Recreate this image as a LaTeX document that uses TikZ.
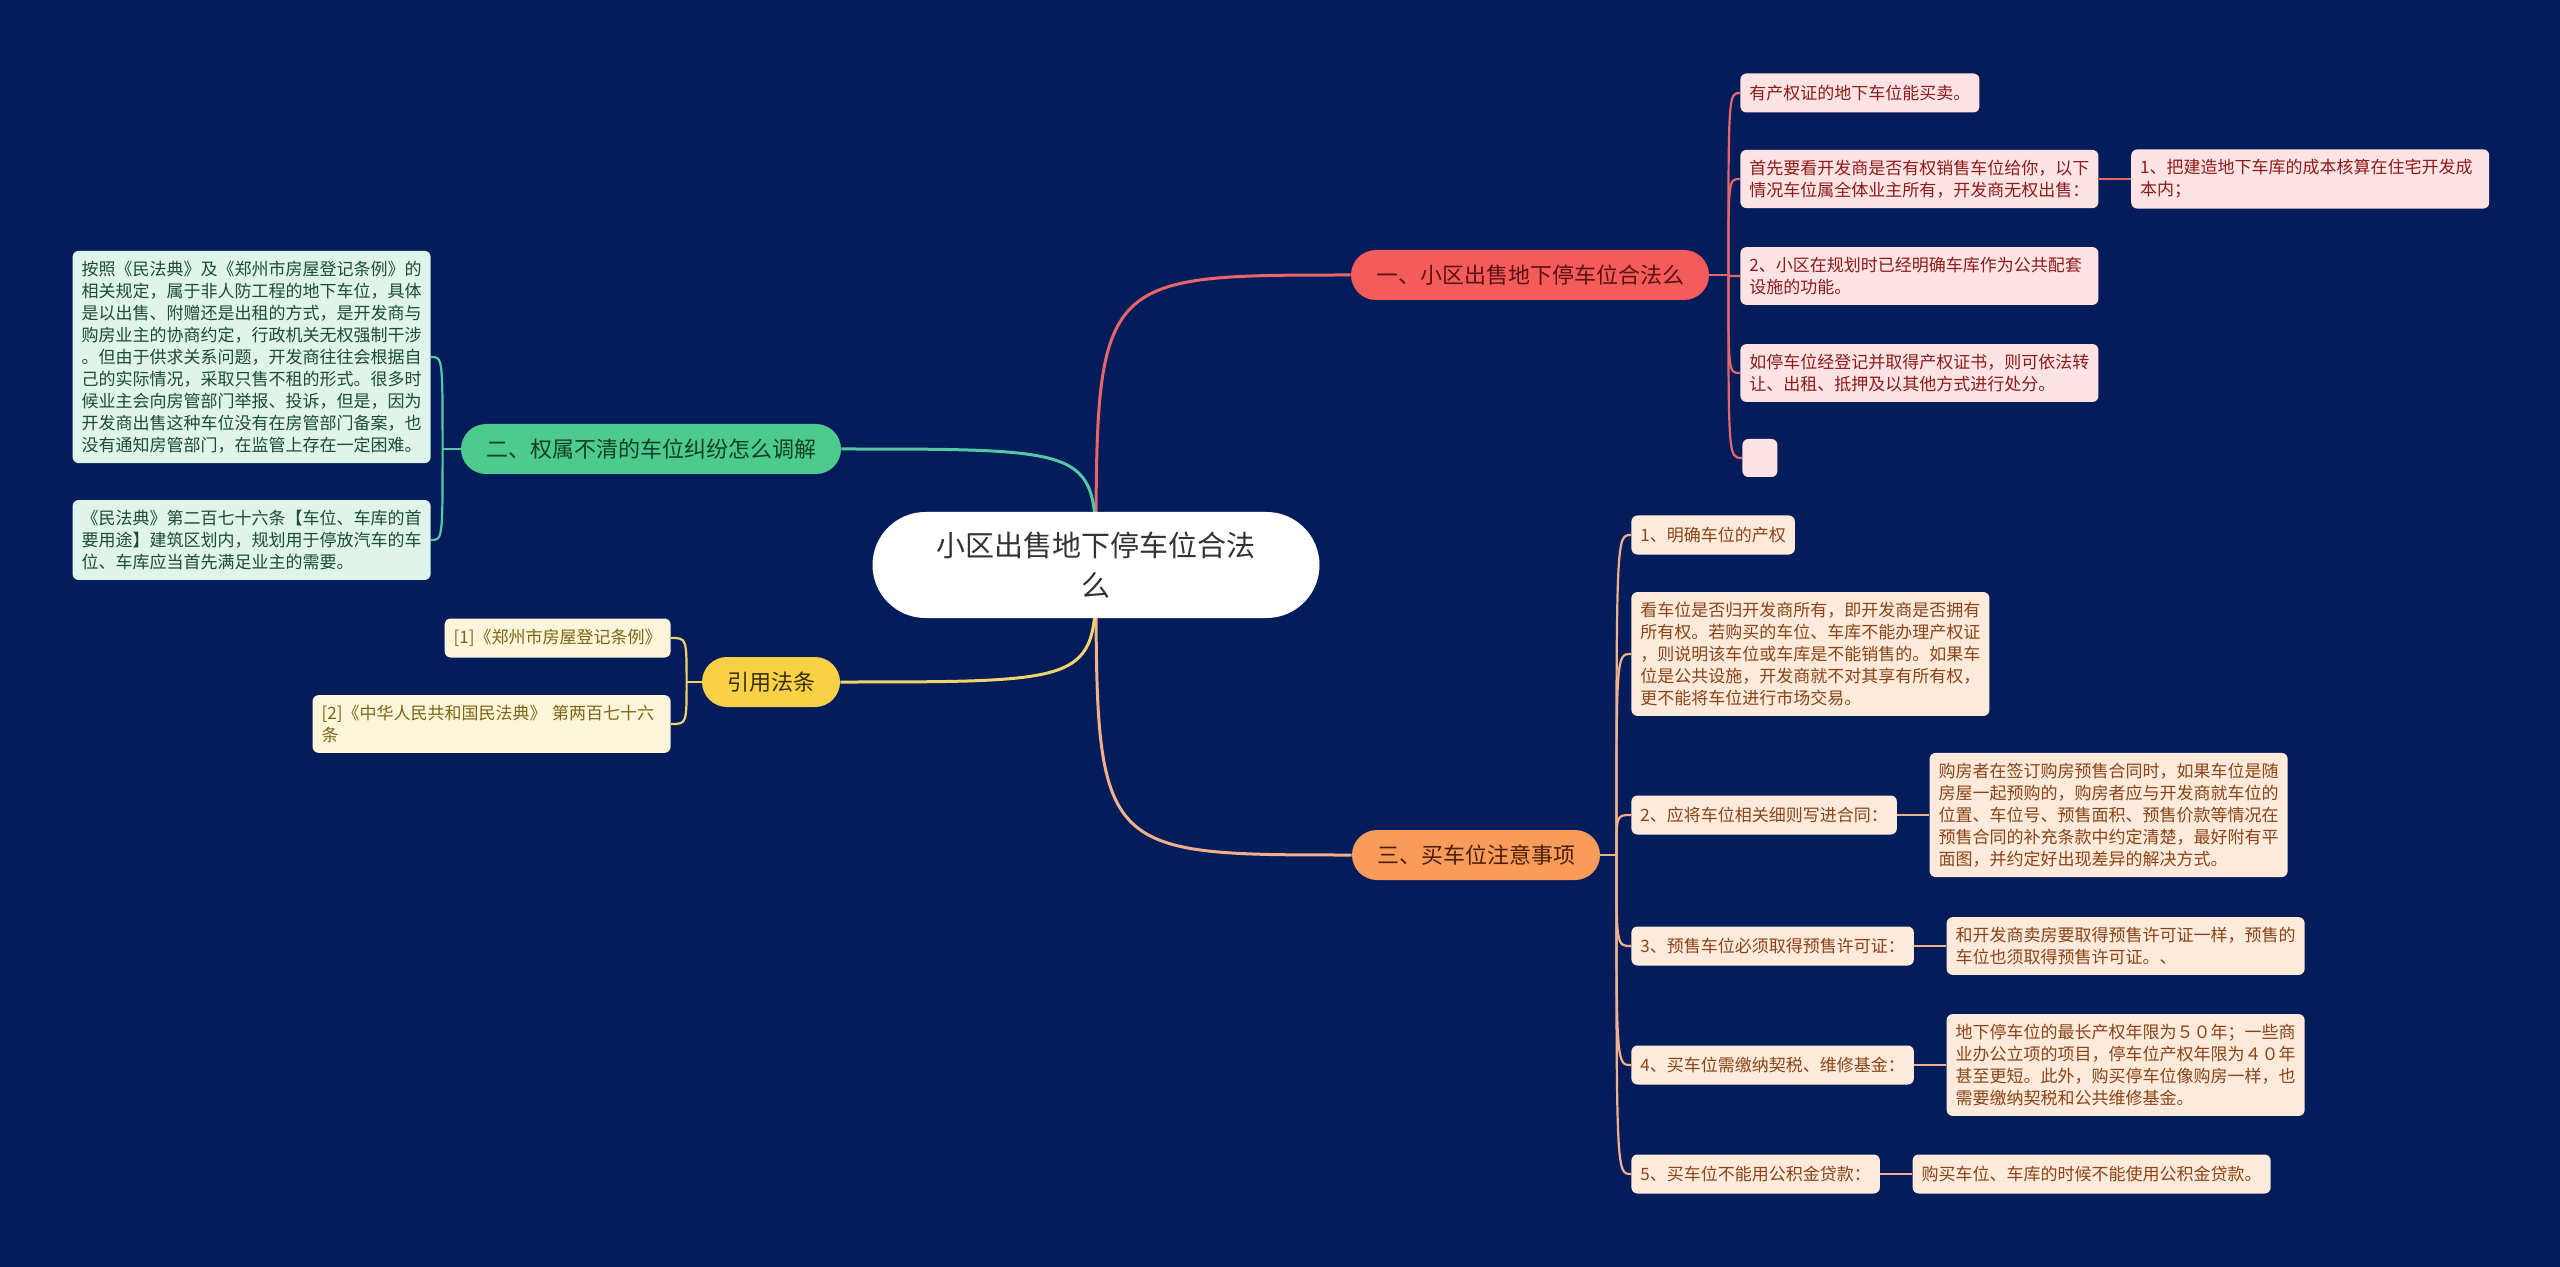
\documentclass[tikz,border=0pt]{standalone}
\usepackage{fontspec}
\setmainfont{Noto Sans CJK SC}
\usepackage{xcolor}
\usetikzlibrary{positioning}

\definecolor{navy}{HTML}{041C5A}
\definecolor{rFill}{HTML}{F45B5B}
\definecolor{rText}{HTML}{5C1010}
\definecolor{rLine}{HTML}{E8666A}
\definecolor{rLeaf}{HTML}{FDE3E3}
\definecolor{rLeafText}{HTML}{8E1B1B}
\definecolor{gFill}{HTML}{4CCB8C}
\definecolor{gText}{HTML}{12402A}
\definecolor{gLine}{HTML}{56C7A6}
\definecolor{gLeaf}{HTML}{DFF4EA}
\definecolor{gLeafText}{HTML}{1C4B36}
\definecolor{yFill}{HTML}{F8D147}
\definecolor{yText}{HTML}{3A2F05}
\definecolor{yLine}{HTML}{F0D56A}
\definecolor{yLeaf}{HTML}{FDF5DA}
\definecolor{yLeafText}{HTML}{7D6515}
\definecolor{oFill}{HTML}{F99B5B}
\definecolor{oText}{HTML}{4A2005}
\definecolor{oLine}{HTML}{F2B08C}
\definecolor{oLeaf}{HTML}{FDEADB}
\definecolor{oLeafText}{HTML}{8A4418}

\pgfdeclarelayer{back}
\pgfdeclarelayer{edges}
\pgfsetlayers{back,edges,main}

\begin{document}
\begin{tikzpicture}[
        x=0.5pt, y=-0.5pt,
        font=\fontsize{8.5pt}{11pt}\selectfont,
        root/.style={fill=white, text=black!80, rounded corners=26.5pt, minimum width=223.5pt, minimum height=53pt, align=center, font=\fontsize{14.5pt}{20pt}\selectfont},
        topic/.style={rounded corners=12.5pt, minimum height=25pt, inner xsep=12.5pt, inner ysep=0pt, font=\fontsize{11pt}{13pt}\selectfont},
        leaf/.style={rounded corners=3pt, inner xsep=4.5pt, inner ysep=5pt, minimum height=19.5pt, align=left},
        wide/.style={text width=170pt},
        rleaf/.style={leaf, fill=rLeaf, text=rLeafText},
        gleaf/.style={leaf, fill=gLeaf, text=gLeafText},
        yleaf/.style={leaf, fill=yLeaf, text=yLeafText},
        oleaf/.style={leaf, fill=oLeaf, text=oLeafText},
        mainline/.style={line width=1.5pt},
        subline/.style={line width=1.1pt}
    ]
        \useasboundingbox (0,0) rectangle (2560,1267);
        \begin{pgfonlayer}{back}
            \fill[navy] (0,0) rectangle (2560,1267);
        \end{pgfonlayer}

        % centre and main topics
        \node[root] (root) at (1096,565) {小区出售地下停车位合法\\么};
        \node[topic, fill=rFill, text=rText] (sale) at (1530,275) {一、小区出售地下停车位合法么};
        \node[topic, fill=gFill, text=gText] (dispute) at (651,449) {二、权属不清的车位纠纷怎么调解};
        \node[topic, fill=yFill, text=yText] (cite) at (771,682) {引用法条};
        \node[topic, fill=oFill, text=oText] (buy) at (1476,855) {三、买车位注意事项};

        % topic one
        \node[rleaf, anchor=west] (own) at (1740,93) {有产权证的地下车位能买卖。};
        \node[rleaf, wide, anchor=west] (first) at (1740,179) {首先要看开发商是否有权销售车位给你，以下\\情况车位属全体业主所有，开发商无权出售：};
        \node[rleaf, wide, right=16pt of first] (cost) {1、把建造地下车库的成本核算在住宅开发成\\本内；};
        \node[rleaf, wide, anchor=west] (plan) at (1740,276) {2、小区在规划时已经明确车库作为公共配套\\设施的功能。};
        \node[rleaf, wide, anchor=west] (deed) at (1740,373) {如停车位经登记并取得产权证书，则可依法转\\让、出租、抵押及以其他方式进行处分。};
        \node[rleaf, minimum width=17.5pt, minimum height=19pt, anchor=west] (blank) at (1742,458) {};

        % topic two
        \node[gleaf, wide, anchor=east] (rules) at (431,357) {按照《民法典》及《郑州市房屋登记条例》的\\相关规定，属于非人防工程的地下车位，具体\\是以出售、附赠还是出租的方式，是开发商与\\购房业主的协商约定，行政机关无权强制干涉\\。但由于供求关系问题，开发商往往会根据自\\己的实际情况，采取只售不租的形式。很多时\\候业主会向房管部门举报、投诉，但是，因为\\开发商出售这种车位没有在房管部门备案，也\\没有通知房管部门，在监管上存在一定困难。};
        \node[gleaf, wide, anchor=east] (article) at (431,540) {《民法典》第二百七十六条【车位、车库的首\\要用途】建筑区划内，规划用于停放汽车的车\\位、车库应当首先满足业主的需要。};

        % citations
        \node[yleaf, anchor=east] (ref1) at (671,638) {[1]《郑州市房屋登记条例》};
        \node[yleaf, wide, anchor=east] (ref2) at (671,724) {[2]《中华人民共和国民法典》 第两百七十六\\条};

        % topic three
        \node[oleaf, anchor=west] (right1) at (1631,535) {1、明确车位的产权};
        \node[oleaf, wide, anchor=west] (right1t) at (1631,654) {看车位是否归开发商所有，即开发商是否拥有\\所有权。若购买的车位、车库不能办理产权证\\，则说明该车位或车库是不能销售的。如果车\\位是公共设施，开发商就不对其享有所有权，\\更不能将车位进行市场交易。};
        \node[oleaf, anchor=west] (contract) at (1631,815) {2、应将车位相关细则写进合同：};
        \node[oleaf, wide, right=16pt of contract] (contractt) {购房者在签订购房预售合同时，如果车位是随\\房屋一起预购的，购房者应与开发商就车位的\\位置、车位号、预售面积、预售价款等情况在\\预售合同的补充条款中约定清楚，最好附有平\\面图，并约定好出现差异的解决方式。};
        \node[oleaf, anchor=west] (permit) at (1631,946) {3、预售车位必须取得预售许可证：};
        \node[oleaf, wide, right=16pt of permit] (permitt) {和开发商卖房要取得预售许可证一样，预售的\\车位也须取得预售许可证。、};
        \node[oleaf, anchor=west] (tax) at (1631,1065) {4、买车位需缴纳契税、维修基金：};
        \node[oleaf, wide, right=16pt of tax] (taxt) {地下停车位的最长产权年限为５０年；一些商\\业办公立项的项目，停车位产权年限为４０年\\甚至更短。此外，购买停车位像购房一样，也\\需要缴纳契税和公共维修基金。};
        \node[oleaf, anchor=west] (loan) at (1631,1174) {5、买车位不能用公积金贷款：};
        \node[oleaf, right=16pt of loan] (loant) {购买车位、车库的时候不能使用公积金贷款。};

        \coordinate (saletrunk) at ([xshift=9.5pt]sale.east);
        \coordinate (buytrunk) at ([xshift=8pt]buy.east);
        \coordinate (disputetrunk) at ([xshift=-9pt]dispute.west);
        \coordinate (citetrunk) at ([xshift=-7.5pt]cite.west);

        \begin{pgfonlayer}{edges}
            \draw[mainline, draw=rLine] (root.center) .. controls (root.center |- sale.west) .. (sale.west);
            \draw[mainline, draw=oLine] (root.center) .. controls (root.center |- buy.west) .. (buy.west);
            \draw[mainline, draw=gLine] (root.center) .. controls (root.center |- dispute.east) .. (dispute.east);
            \draw[mainline, draw=yLine] (root.center) .. controls (root.center |- cite.east) .. (cite.east);

            \draw[subline, draw=rLine] (sale.east) -- (saletrunk);
            \draw[subline, draw=rLine] (saletrunk) .. controls (saletrunk |- own.west) .. (own.west);
            \draw[subline, draw=rLine] (saletrunk) .. controls (saletrunk |- first.west) .. (first.west);
            \draw[subline, draw=rLine] (saletrunk) .. controls (saletrunk |- plan.west) .. (plan.west);
            \draw[subline, draw=rLine] (saletrunk) .. controls (saletrunk |- deed.west) .. (deed.west);
            \draw[subline, draw=rLine] (saletrunk) .. controls (saletrunk |- blank.west) .. (blank.west);
            \draw[subline, draw=rLine] (first.east) -- (cost.west);

            \draw[subline, draw=gLine] (dispute.west) -- (disputetrunk);
            \draw[subline, draw=gLine] (disputetrunk) .. controls (disputetrunk |- rules.east) .. (rules.east);
            \draw[subline, draw=gLine] (disputetrunk) .. controls (disputetrunk |- article.east) .. (article.east);

            \draw[subline, draw=yLine] (cite.west) -- (citetrunk);
            \draw[subline, draw=yLine] (citetrunk) .. controls (citetrunk |- ref1.east) .. (ref1.east);
            \draw[subline, draw=yLine] (citetrunk) .. controls (citetrunk |- ref2.east) .. (ref2.east);

            \draw[subline, draw=oLine] (buy.east) -- (buytrunk);
            \draw[subline, draw=oLine] (buytrunk) .. controls (buytrunk |- right1.west) .. (right1.west);
            \draw[subline, draw=oLine] (buytrunk) .. controls (buytrunk |- right1t.west) .. (right1t.west);
            \draw[subline, draw=oLine] (buytrunk) .. controls (buytrunk |- contract.west) .. (contract.west);
            \draw[subline, draw=oLine] (buytrunk) .. controls (buytrunk |- permit.west) .. (permit.west);
            \draw[subline, draw=oLine] (buytrunk) .. controls (buytrunk |- tax.west) .. (tax.west);
            \draw[subline, draw=oLine] (buytrunk) .. controls (buytrunk |- loan.west) .. (loan.west);
            \draw[subline, draw=oLine] (contract.east) -- (contractt.west);
            \draw[subline, draw=oLine] (permit.east) -- (permitt.west);
            \draw[subline, draw=oLine] (tax.east) -- (taxt.west);
            \draw[subline, draw=oLine] (loan.east) -- (loant.west);
        \end{pgfonlayer}
    \end{tikzpicture}
\end{document}
